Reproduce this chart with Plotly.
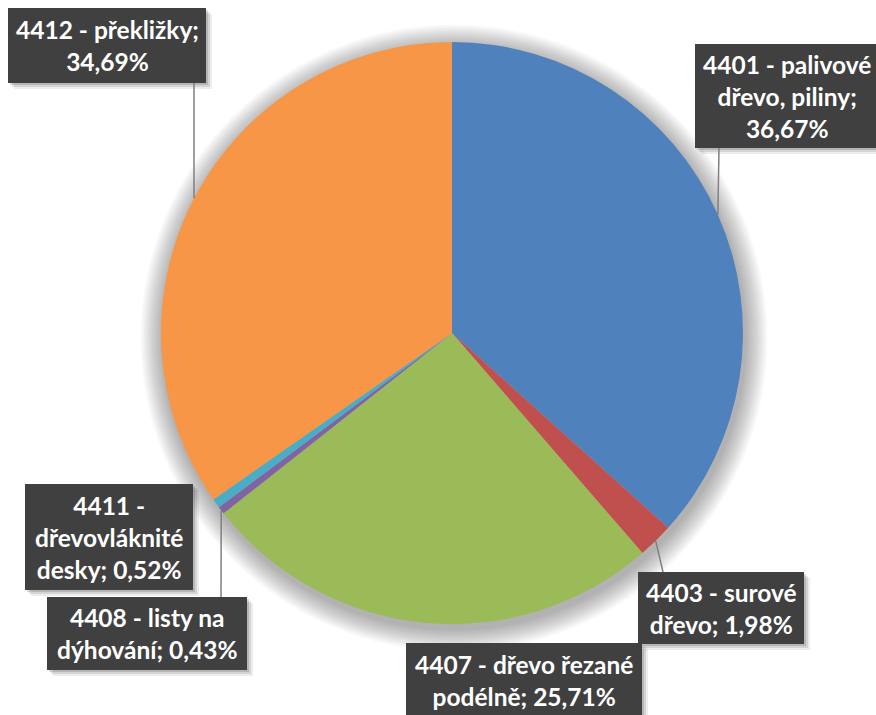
import math
import plotly.graph_objects as go

# ---- data ----
codes = ["4401", "4403", "4407", "4408", "4411", "4412"]
names = ["palivové dřevo, piliny", "surové dřevo", "dřevo řezané podélně",
         "listy na dýhování", "dřevovláknité desky", "překližky"]
values = [36.67, 1.98, 25.71, 0.43, 0.52, 34.69]
colors = ["#4F81BD", "#C0504D", "#9BBB59", "#8064A2", "#4BACC6", "#F79646"]
# label text split into lines as in the original
label_lines = [
    ["4401 - palivové", "dřevo, piliny;", "{p}"],
    ["4403 - surové", "dřevo; {p}"],
    ["4407 - dřevo řezané", "podélně; {p}"],
    ["4408 - listy na", "dýhování; {p}"],
    ["4411 -", "dřevovláknité", "desky; {p}"],
    ["4412 - překližky;", "{p}"],
]

# ---- layout geometry (pixels) ----
W, H = 876, 715
CX, CY, R = 452, 333, 291
# label boxes: x0, y0, x1, y1 (pixels from top-left)
boxes = [
    (695, 44, 878, 148),
    (638, 572, 804, 644),
    (406, 643, 642, 718),
    (47, 597, 247, 670),
    (25, 484, 193, 590),
    (8, 8, 206, 83),
]
# leader line end (on box) for each label, None = no leader
leader_end = [(719, 148), (663, 572), None, (221, 597), None, (194, 83)]

def px(x):
    return x / W

def py(y):
    return 1 - y / H

fig = go.Figure()

fig.add_trace(go.Pie(
    labels=[c + " - " + n for c, n in zip(codes, names)],
    values=values,
    sort=False,
    direction="clockwise",
    rotation=0,
    marker=dict(colors=colors, line=dict(width=0)),
    textinfo="none",
    hoverinfo="label+percent",
    showlegend=False,
    domain=dict(x=[px(CX - R), px(CX + R)], y=[py(CY + R), py(CY - R)]),
))

shapes = []
# soft shadow around pie
for i in range(14, 0, -1):
    rr = R + i * 1.6
    off = 5
    shapes.append(dict(type="circle", xref="paper", yref="paper", layer="below",
                       x0=px(CX - rr + 2), x1=px(CX + rr + 2),
                       y0=py(CY + off + rr), y1=py(CY + off - rr),
                       fillcolor="rgba(0,0,0,0.022)", line=dict(width=0)))

annotations = []
total = sum(values)
cum = 0.0
for i, v in enumerate(values):
    mid = (cum + v / 2) / total * 2 * math.pi
    cum += v
    ex = CX + R * math.sin(mid)
    ey = CY - R * math.cos(mid)
    x0, y0, x1, y1 = boxes[i]
    # box shadow
    for k, a in ((6, 0.07), (4, 0.1), (2, 0.14)):
        shapes.append(dict(type="rect", xref="paper", yref="paper", layer="above",
                           x0=px(x0 + k), x1=px(x1 + k), y0=py(y1 + k), y1=py(y0 + k),
                           fillcolor="rgba(0,0,0,%s)" % a, line=dict(width=0)))
    shapes.append(dict(type="rect", xref="paper", yref="paper", layer="above",
                       x0=px(x0), x1=px(x1), y0=py(y1), y1=py(y0),
                       fillcolor="#404040", line=dict(width=0)))
    if leader_end[i] is not None:
        lx, ly = leader_end[i]
        shapes.append(dict(type="line", xref="paper", yref="paper", layer="above",
                           x0=px(ex), y0=py(ey), x1=px(lx), y1=py(ly),
                           line=dict(color="#808080", width=1.5)))
    pct = ("%.2f" % v).replace(".", ",") + "%"
    text = "<br>".join(l.replace("{p}", pct) for l in label_lines[i])
    annotations.append(dict(
        x=px((x0 + x1) / 2), y=py((y0 + y1) / 2), xref="paper", yref="paper",
        xanchor="center", yanchor="middle", showarrow=False,
        text="<b>" + text + "</b>", align="center",
        font=dict(family="Lato", size=24.5, color="white"),
    ))

fig.update_layout(
    width=W, height=H,
    margin=dict(l=0, r=0, t=0, b=0),
    paper_bgcolor="white",
    plot_bgcolor="white",
    shapes=shapes,
    annotations=annotations,
)

fig.write_html("out.html", config={"displayModeBar": False},
               post_script="document.body.style.margin='0';")
